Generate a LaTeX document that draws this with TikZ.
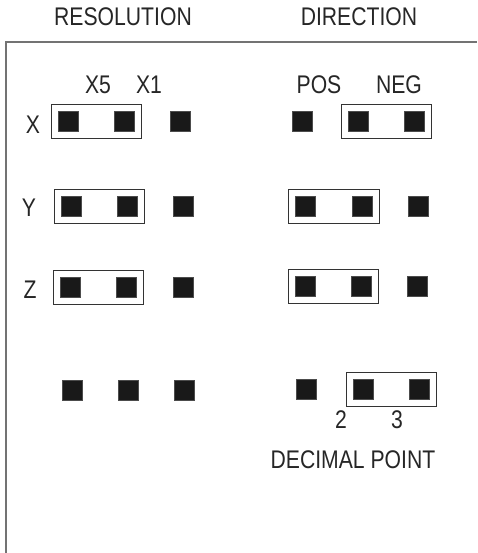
\documentclass[tikz,border=0pt]{standalone}
\usepackage{fontspec}
\setmainfont{Liberation Sans}
\newfontfamily\lblfont[FakeStretch=0.83]{Liberation Sans}
\usetikzlibrary{fit}
\begin{document}
\begin{tikzpicture}[x=1pt,y=-1pt,
  pin/.style={draw=black!70,fill=black!90,line width=0.5pt,minimum size=20pt,inner sep=0pt,outer sep=0pt},
  jbox/.style={draw=black!80,line width=0.8pt,inner sep=7pt},
  lbl/.style={font=\lblfont\fontsize{25.5}{25.5}\selectfont,text=black!85,inner sep=0pt},
  frame/.style={draw=black!55,line width=1.2pt}]
\useasboundingbox (0,0) rectangle (477,553);
% frame
\coordinate (fb) at (6,553);
\coordinate (fc) at (6,42);
\coordinate (fr) at (477,42);
\draw[frame] (fb) -- (fc) -- (fr);
% headings
\node[lbl] (res) at (123,17) {RESOLUTION};
\node[lbl] (dir) at (359,17) {DIRECTION};
\node[lbl] (x5) at (98,85) {X5};
\node[lbl] (x1) at (149,85) {X1};
\node[lbl] (pos) at (319,85) {POS};
\node[lbl] (neg) at (399,85) {NEG};
% row X
\node[lbl] (lx) at (33,125) {X};
\node[pin] (xa) at (68,121) {};
\node[pin] (xb) at (124,121) {};
\node[pin] (xc) at (180,121) {};
\node[pin] (xd) at (302,121) {};
\node[pin] (xe) at (358,121) {};
\node[pin] (xf) at (414,121) {};
\node[jbox,fit=(xa)(xb)] (bx1) {};
\node[jbox,fit=(xe)(xf)] (bx2) {};
% row Y
\node[lbl] (ly) at (29,208) {Y};
\node[pin] (ya) at (71,206) {};
\node[pin] (yb) at (127,206) {};
\node[pin] (yc) at (183,206) {};
\node[pin] (yd) at (305,206) {};
\node[pin] (ye) at (362,206) {};
\node[pin] (yf) at (418,206) {};
\node[jbox,fit=(ya)(yb)] (by1) {};
\node[jbox,fit=(yd)(ye)] (by2) {};
% row Z
\node[lbl] (lz) at (30,290) {Z};
\node[pin] (za) at (70,287) {};
\node[pin] (zb) at (126,287) {};
\node[pin] (zc) at (183,287) {};
\node[pin] (zd) at (305,286) {};
\node[pin] (ze) at (361,286) {};
\node[pin] (zf) at (417,286) {};
\node[jbox,fit=(za)(zb)] (bz1) {};
\node[jbox,fit=(zd)(ze)] (bz2) {};
% row 4
\node[pin] (wa) at (72,390) {};
\node[pin] (wb) at (128,390) {};
\node[pin] (wc) at (184,390) {};
\node[pin] (wd) at (306,389) {};
\node[pin] (we) at (363,389) {};
\node[pin] (wf) at (419,389) {};
\node[jbox,fit=(we)(wf)] (bw2) {};
\node[lbl] (n2) at (341,420) {2};
\node[lbl] (n3) at (397,420) {3};
\node[lbl] (dp) at (353,460) {DECIMAL POINT};
\end{tikzpicture}
\end{document}
